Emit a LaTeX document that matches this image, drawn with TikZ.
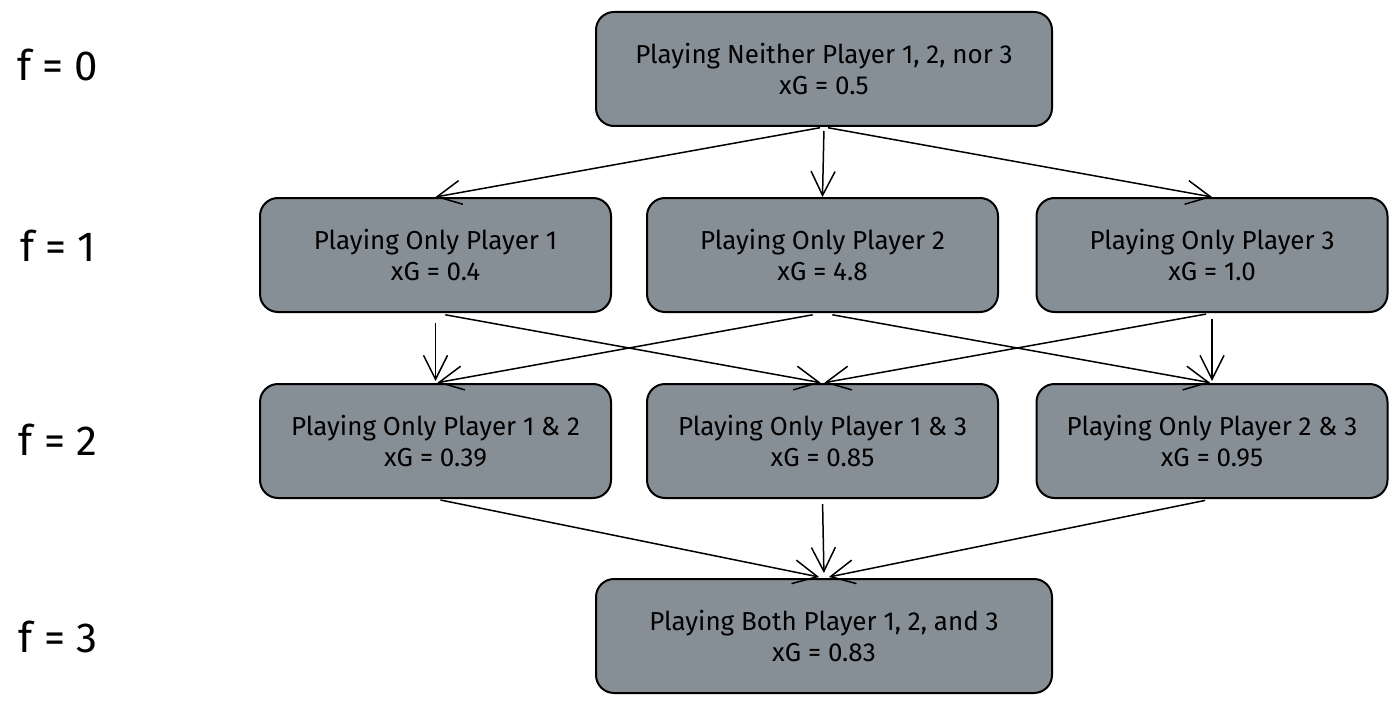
\documentclass[tikz,border=0pt]{standalone}
\usepackage{fontspec}
\setmainfont{Fira Sans}
\usetikzlibrary{arrows.meta}
\definecolor{boxgray}{HTML}{868E96}
\begin{document}
\begin{tikzpicture}[x=1pt,y=-1pt,
  statebox/.style={draw=black, line width=2pt, fill=boxgray, rounded corners=18pt,
    minimum width=351pt, minimum height=114pt, align=center,
    font=\fontsize{26}{31}\selectfont, inner sep=0pt},
  widebox/.style={statebox, minimum width=456pt},
  flabel/.style={font=\fontsize{42}{48}\selectfont, anchor=center},
  conn/.style={draw=black, line width=1.5pt, -{Straight Barb[length=24pt,width=24pt,line width=1.5pt]}}
]
\useasboundingbox (0,0) rectangle (1400,706);
\node[flabel] (f0) at (58,65) {f = 0};
\node[flabel] (f1) at (58,246) {f = 1};
\node[flabel] (f2) at (58,440) {f = 2};
\node[flabel] (f3) at (58,637) {f = 3};

\node[widebox] (top) at (824,69) {Playing Neither Player 1, 2, nor 3\\xG = 0.5};
\node[statebox] (p1) at (435.5,255) {Playing Only Player 1\\xG = 0.4};
\node[statebox] (p2) at (822.5,255) {Playing Only Player 2\\xG = 4.8};
\node[statebox] (p3) at (1212,255) {Playing Only Player 3\\xG = 1.0};
\node[statebox] (q12) at (435.5,441) {Playing Only Player 1 \& 2\\xG = 0.39};
\node[statebox] (q13) at (822.5,441) {Playing Only Player 1 \& 3\\xG = 0.85};
\node[statebox] (q23) at (1212,441) {Playing Only Player 2 \& 3\\xG = 0.95};
\node[widebox] (bot) at (824,636) {Playing Both Player 1, 2, and 3\\xG = 0.83};

\draw[conn, shorten <=4pt] (top.south) -- (p1.north);
\draw[conn, shorten <=4pt] (top.south) -- (p2.north);
\draw[conn, shorten <=4pt] (top.south) -- (p3.north);

\draw[conn, shorten <=10pt, shorten >=2pt] (p1.south) -- (q12.north);
\draw[conn, shorten <=10pt, shorten >=2pt] (p1.south) -- (q13.north);
\draw[conn, shorten <=10pt, shorten >=2pt] (p2.south) -- (q12.north);
\draw[conn, shorten <=10pt, shorten >=2pt] (p2.south) -- (q23.north);
\draw[conn, shorten <=6pt, shorten >=2pt] (p3.south) -- (q13.north);
\draw[conn, shorten <=6pt, shorten >=2pt] (p3.south) -- (q23.north);

\draw[conn, shorten <=5pt, shorten >=5pt] (q12.south) -- (bot.north);
\draw[conn, shorten <=5pt, shorten >=5pt] (q13.south) -- (bot.north);
\draw[conn, shorten <=7pt, shorten >=5pt] (q23.south) -- (bot.north);
\end{tikzpicture}
\end{document}
